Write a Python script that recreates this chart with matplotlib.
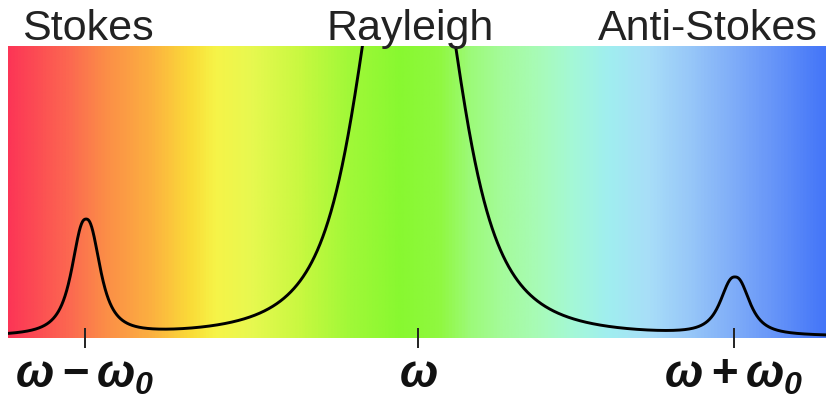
import numpy as np
import matplotlib
matplotlib.use('Agg')
import matplotlib.pyplot as plt
from matplotlib.colors import LinearSegmentedColormap

# Scattering peaks: centre (shift units), height (fraction of frame), width, line-shape exponent
peak_names = ['Stokes', 'Rayleigh', 'Anti-Stokes']
peak_centers = [86, 409, 735]
peak_heights = [0.395, 1.55, 0.197]
peak_widths = [16.0, 56.6, 16.5]
peak_shapes = [2.5, 3.0, 2.5]
baseline = 0.004

tick_positions = [85, 418, 734]
tick_labels = [r'$\omega-\omega_0$', r'$\omega$', r'$\omega+\omega_0$']

# Colour stops of the spectrum backdrop (same shift units as the peaks)
stop_x = [8, 70, 100, 150, 190, 215, 250, 300, 350, 400, 440, 470, 500, 540,
          575, 610, 650, 690, 730, 770, 826]
stop_colors = ['#fc3656', '#fc6a50', '#fb8a48', '#fcb040', '#fadc38', '#f6f448',
               '#e8f850', '#c8f840', '#a0f838', '#88f830', '#90f840', '#9cfa78',
               '#a4fb98', '#a8fbb8', '#a4f8d8', '#a0eef0', '#a8def8', '#98c8f8',
               '#82b0f8', '#6a98f8', '#4476f8']

x_min, x_max = 8, 826

plt.rcParams['mathtext.fontset'] = 'custom'
plt.rcParams['mathtext.rm'] = 'Liberation Sans:bold:italic'
plt.rcParams['mathtext.it'] = 'Liberation Sans:bold:italic'
plt.rcParams['mathtext.bf'] = 'Liberation Sans:bold:italic'

fig = plt.figure(figsize=(8.26, 4.12), dpi=100)
ax = fig.add_axes([8 / 826, 74 / 412, 818 / 826, 292 / 412])

# horizontal colour gradient behind the spectrum
nodes = [(x - x_min) / (x_max - x_min) for x in stop_x]
cmap = LinearSegmentedColormap.from_list('spectrum', list(zip(nodes, stop_colors)))
grad = np.linspace(0, 1, 1000).reshape(1, -1)
ax.imshow(grad, cmap=cmap, aspect='auto', extent=[x_min, x_max, 0, 1],
          interpolation='bilinear', zorder=0)

# spectrum curve: sum of peaks on a flat baseline
x = np.linspace(x_min, x_max, 3000)
y = np.full_like(x, baseline)
for c, h, w, p in zip(peak_centers, peak_heights, peak_widths, peak_shapes):
    y += h / (1 + np.abs((x - c) / w) ** p)
ax.plot(x, y, color='black', lw=2.1, solid_capstyle='round', zorder=2)

ax.set_xlim(x_min, x_max)
ax.set_ylim(0, 1)
for s in ax.spines.values():
    s.set_visible(False)
ax.set_yticks([])
ax.set_xticks(tick_positions, tick_labels)
ax.tick_params(axis='x', direction='inout', length=14.4, width=1.4,
               color='#222222', pad=3, labelsize=33, labelcolor='#111111')

# peak names above the frame
name_kw = dict(fontsize=31, family='Liberation Sans', color='#222222', va='baseline')
fig.text(22 / 826, 1 - 40 / 412, peak_names[0], ha='left', **name_kw)
fig.text(410 / 826, 1 - 40 / 412, peak_names[1], ha='center', **name_kw)
fig.text(818 / 826, 1 - 40 / 412, peak_names[2], ha='right', **name_kw)

fig.savefig('out.png', dpi=100, facecolor='white')
